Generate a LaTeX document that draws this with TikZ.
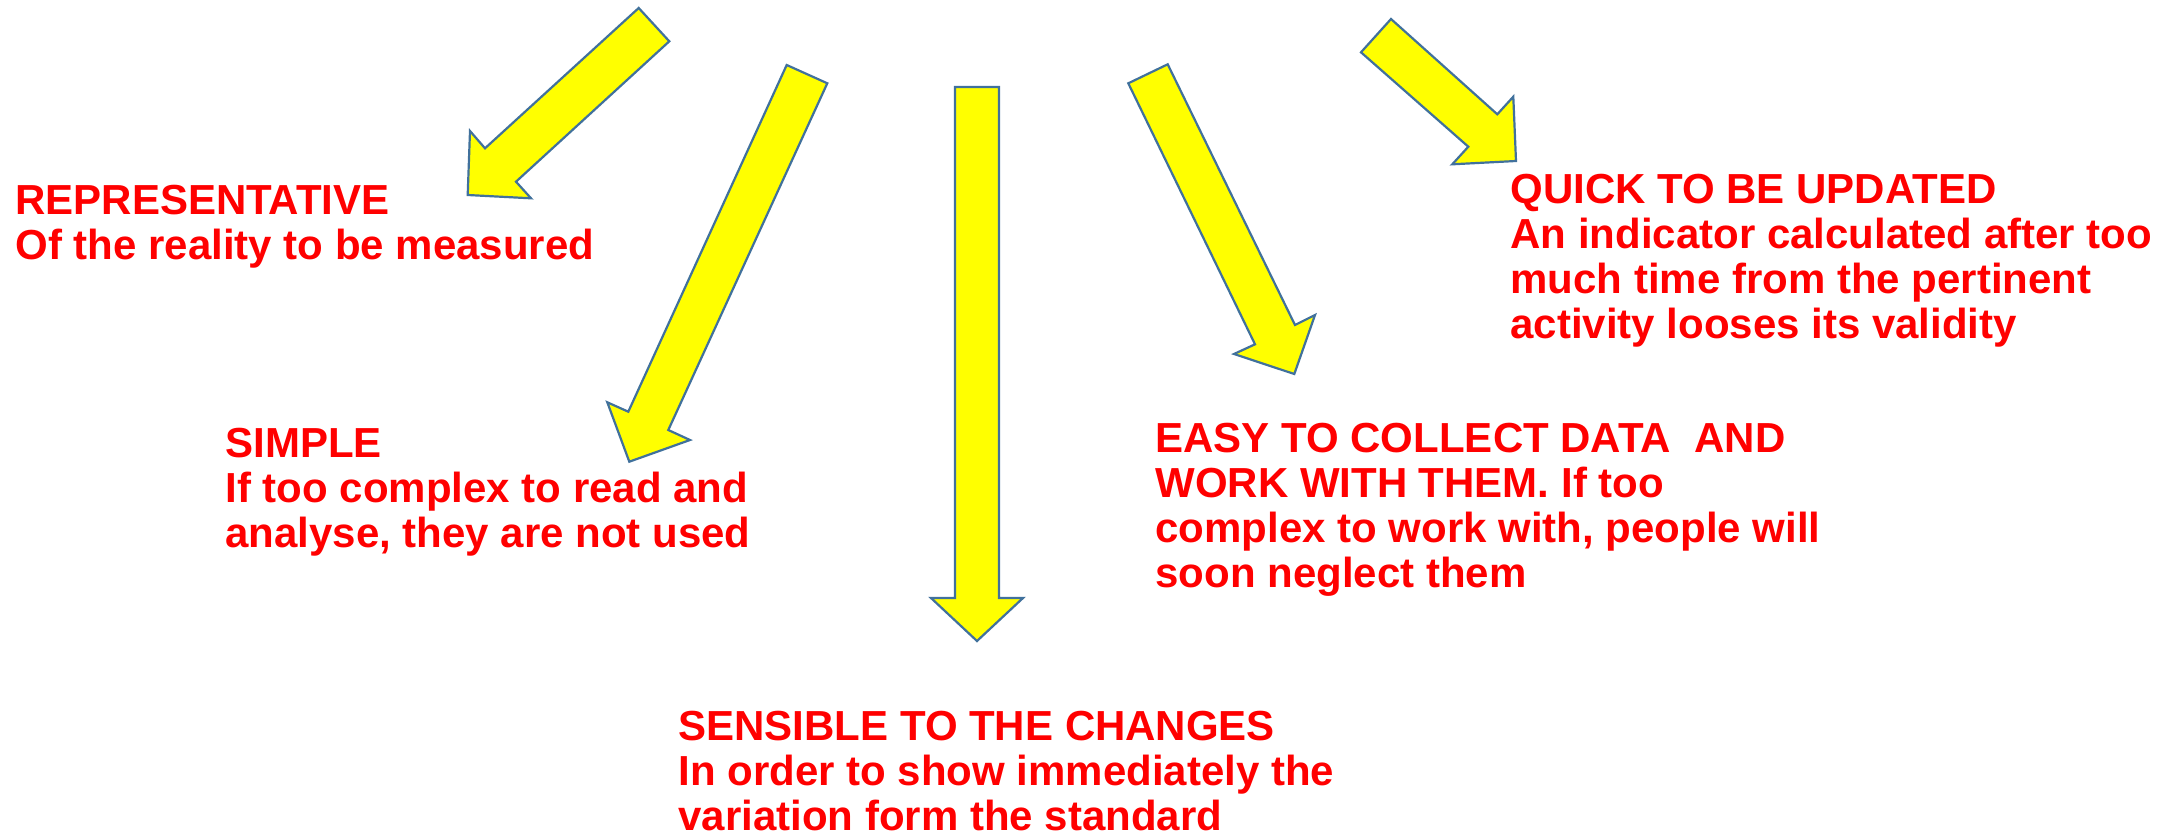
\documentclass[tikz,border=0pt]{standalone}
\usepackage{fontspec}
\setmainfont{Liberation Sans}
\definecolor{arrowfill}{HTML}{FFFF00}
\definecolor{arrowline}{HTML}{41719C}
\definecolor{txtred}{HTML}{FF0000}
\newcommand\topstrut{\rule{0pt}{17pt}}
\tikzset{
  blockarrow/.style={fill=arrowfill, draw=arrowline, line width=1.1pt, line join=miter},
  label text/.style={text=txtred, font=\fontsize{21}{22.5}\selectfont\bfseries,
    align=left, inner sep=0pt, anchor=north west}
}
\begin{document}
\begin{tikzpicture}[x=0.5pt, y=-0.5pt]
\useasboundingbox (0,0) rectangle (2176,835);
% arrows
\draw[blockarrow] (638.7,8) -- (669.3,41.3) -- (516,181.7) -- (531,198.3) -- (467.7,195) -- (470,131) -- (485,148.3) -- cycle;
\draw[blockarrow] (786.7,65) -- (827.3,83.3) -- (668.3,430) -- (690,440) -- (629.3,461.7) -- (607.3,402.3) -- (628.3,411.7) -- cycle;
\draw[blockarrow] (955,87) -- (999,87) -- (999,598) -- (1023,598) -- (977,641) -- (931,598) -- (955,598) -- cycle;
\draw[blockarrow] (1128.3,83.3) -- (1167.7,64.3) -- (1295,325) -- (1315,315) -- (1294.3,374) -- (1234,354) -- (1255,344.3) -- cycle;
\draw[blockarrow] (1391,19) -- (1361,52.3) -- (1468.3,146.7) -- (1452.3,164.3) -- (1516,161) -- (1513.3,96.7) -- (1497.3,114.3) -- cycle;
% texts (position = left edge, baseline of first line minus 34)
\node[label text] (rep) at (15,180) {\topstrut REPRESENTATIVE\\Of the reality to be measured};
\node[label text] (simple) at (225,423) {\topstrut SIMPLE\\If too complex to read and\\analyse, they are not used};
\node[label text] (sensible) at (678,706) {\topstrut SENSIBLE TO THE CHANGES\\In order to show immediately the\\variation form the standard};
\node[label text] (easy) at (1155,418) {\topstrut EASY TO COLLECT DATA\ \ AND\\WORK WITH THEM. If too\\complex to work with, people will\\soon neglect them};
\node[label text] (quick) at (1510,169) {\topstrut QUICK TO BE UPDATED\\An indicator calculated after too\\much time from the pertinent\\activity looses its validity};
\end{tikzpicture}
\end{document}
